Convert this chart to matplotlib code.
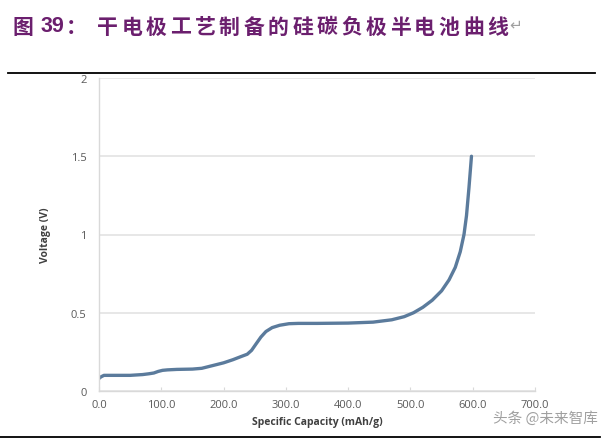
import matplotlib
matplotlib.use('Agg')
import matplotlib.pyplot as plt
from matplotlib.lines import Line2D

# half-cell discharge curve
capacity = [0, 3, 8, 15, 30, 50, 70, 80, 88, 95, 102, 110, 125, 150, 165, 180,
            200, 215, 228, 238, 245, 252, 260, 268, 278, 290, 305, 320, 350,
            400, 440, 470, 490, 505, 520, 535, 550, 562, 572, 580, 586, 590,
            594, 598]
voltage = [0.08, 0.09, 0.1, 0.1, 0.1, 0.1, 0.105, 0.11, 0.115, 0.125, 0.132,
           0.135, 0.138, 0.14, 0.145, 0.16, 0.18, 0.2, 0.22, 0.235, 0.26, 0.3,
           0.345, 0.38, 0.405, 0.42, 0.43, 0.432, 0.432, 0.434, 0.44, 0.455,
           0.475, 0.5, 0.535, 0.58, 0.64, 0.71, 0.79, 0.89, 1.0, 1.12, 1.3, 1.5]

x_ticks = [0, 100, 200, 300, 400, 500, 600, 700]
y_ticks = [0, 0.5, 1, 1.5, 2]
y_labels = ['0', '0.5', '1', '1.5', '2']

title_prefix = '图'
title_num = '39'
title_colon = '：'
title_body = '干电极工艺制备的硅碳负极半电池曲线'

W, H = 612, 439
CJK = ['Noto Sans CJK SC', 'DejaVu Sans']
PURPLE = '#6b1f6e'

fig = plt.figure(figsize=(W / 100, H / 100), dpi=100)
ax = fig.add_axes([99 / W, 1 - 392 / H, 436 / W, 313 / H])

ax.plot(capacity, voltage, color='#5b7b9c', linewidth=2.4, solid_capstyle='round')

ax.set_xlim(0, 700)
ax.set_ylim(0, 2)
ax.set_xticks(x_ticks)
ax.set_xticklabels([f'{v:.1f}' for v in x_ticks])
ax.set_yticks(y_ticks)
ax.set_yticklabels(y_labels)
ax.grid(True, axis='y', color='#e3e3e3', linewidth=1.2)
ax.set_axisbelow(True)

for side in ['top', 'right']:
    ax.spines[side].set_visible(False)
for side in ['left', 'bottom']:
    ax.spines[side].set_color('#d9d9d9')
    ax.spines[side].set_linewidth(1.0)

ax.tick_params(axis='x', colors='#d9d9d9', labelcolor='#595959', labelsize=8,
               length=3, direction='in', pad=6)
ax.tick_params(axis='y', length=0, labelcolor='#595959', labelsize=8, pad=9)
for lab in ax.get_xticklabels() + ax.get_yticklabels():
    lab.set_family('Open Sans')

ax.set_xlabel('Specific Capacity (mAh/g)', fontsize=7.5, fontweight='bold',
              family='Open Sans', color='#404040', labelpad=4)
ax.set_ylabel('Voltage (V)', fontsize=7.5, fontweight='bold',
              family='Open Sans', color='#404040', labelpad=14)

# title, laid out character by character to get the wide spacing
ty = 1 - 27 / H
fig.text(12 / W, ty, title_prefix, fontsize=15, fontweight='bold', color=PURPLE,
         va='center', ha='left', family=CJK)
fig.text(41 / W, ty, title_num, fontsize=15.5, fontweight='bold', color=PURPLE,
         va='center', ha='left', family='Liberation Sans')
fig.text(66 / W, ty, title_colon, fontsize=15, fontweight='bold', color=PURPLE,
         va='center', ha='left', family=CJK)
for i, ch in enumerate(title_body):
    fig.text((97 + i * 24.4) / W, ty, ch, fontsize=15, fontweight='bold',
             color=PURPLE, va='center', ha='left', family=CJK)
fig.text(509 / W, 1 - 25 / H, '\u21b5', fontsize=11, color='#a0a0a0',
         va='center', ha='left', family='DejaVu Sans')

# rule lines above and below the figure
fig.add_artist(Line2D([8 / W, 595 / W], [1 - 74 / H] * 2,
                      color='black', linewidth=1.3, transform=fig.transFigure))
fig.add_artist(Line2D([0, 600 / W], [1 - 437.5 / H] * 2,
                      color='black', linewidth=1.3, transform=fig.transFigure))

fig.text(598 / W, 1 - 419 / H, '头条 @未来智库', fontsize=10.5,
         color='#888888', alpha=0.8, ha='right', va='center', family=CJK)

fig.savefig('out.png', dpi=100)
